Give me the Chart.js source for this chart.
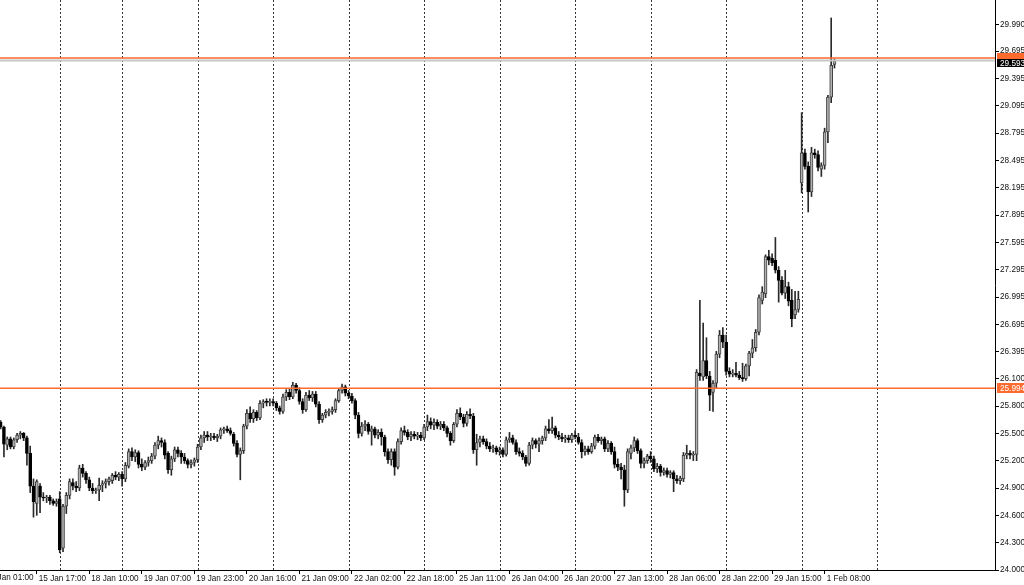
<!DOCTYPE html>
<html>
<head>
<meta charset="utf-8">
<script src="https://cdn.jsdelivr.net/npm/chart.js@4.4.1/dist/chart.umd.min.js"></script>
<style>
  html, body { margin: 0; padding: 0; background: #fff; }
  #wrap { width: 1024px; height: 585px; }
</style>
</head>
<body>
<div id="wrap"><canvas id="chart" width="1024" height="585"></canvas></div>
<script>
// H1 candles, 15 Jan 06:00 .. 1 Feb 11:00 (bar index = position)
const opens = [
  25.62,25.57,25.37,25.44,25.35,25.43,25.48,25.50,25.45,25.28,24.92,24.73,24.92,24.80,24.79,24.80,24.76,24.73,
  24.78,24.24,24.70,24.82,24.96,24.92,24.90,25.12,25.06,24.99,24.90,24.87,24.88,24.93,24.95,24.97,24.98,25.04,25.02,
  25.05,25.00,25.14,25.30,25.24,25.29,25.16,25.13,25.18,25.20,25.25,25.37,25.42,25.40,25.28,25.10,25.22,25.32,25.28,25.24,25.20,25.16,25.18,
  25.21,25.35,25.45,25.48,25.46,25.47,25.45,25.47,25.54,25.55,25.53,25.49,25.39,25.27,25.31,25.58,25.72,25.66,25.73,25.67,25.83,25.85,25.84,
  25.85,25.83,25.78,25.74,25.90,25.95,25.90,26.03,25.97,25.85,25.76,25.92,25.89,25.93,25.82,25.65,25.70,25.73,25.74,25.76,25.86,25.97,26.01,
  25.94,25.91,25.86,25.70,25.50,25.58,25.60,25.52,25.55,25.48,25.51,25.46,25.30,25.21,25.30,25.13,25.41,25.53,25.51,25.46,25.49,25.47,25.48,
  25.45,25.57,25.63,25.59,25.62,25.58,25.60,25.56,25.50,25.42,25.60,25.72,25.68,25.61,25.71,25.69,25.32,25.40,25.44,25.41,25.36,25.33,25.34,
  25.30,25.32,25.27,25.43,25.45,25.40,25.30,25.28,25.24,25.17,25.37,25.42,25.38,25.42,25.45,25.55,25.53,25.56,25.48,25.46,25.44,25.45,25.43,
  25.48,25.46,25.40,25.30,25.33,25.30,25.36,25.46,25.42,25.44,25.33,25.39,25.30,25.16,25.13,25.10,24.88,25.28,25.34,25.42,25.31,25.17,25.20,
  25.25,25.22,25.11,25.14,25.07,25.09,25.05,25.07,25.00,24.98,25.00,25.26,25.28,25.26,25.27,26.16,26.12,26.30,26.13,25.95,26.05,26.37,26.58,
  26.50,26.18,26.15,26.16,26.14,26.11,26.10,26.24,26.38,26.44,26.61,26.96,27.03,27.44,27.42,27.40,27.29,27.18,27.04,27.11,26.96,26.80,26.86,
  28.25,28.58,28.43,28.15,28.58,28.56,28.40,28.44,28.81,29.19,29.55
];
const highs = [
  25.64,25.58,25.46,25.46,25.45,25.50,25.52,25.51,25.47,25.36,25.00,24.99,24.95,24.85,24.82,24.82,24.78,24.78,
  24.86,24.72,24.85,25.00,25.00,24.97,25.15,25.16,25.08,25.02,24.95,24.90,25.01,24.98,25.00,25.02,25.06,25.08,25.07,
  25.08,25.18,25.33,25.34,25.32,25.31,25.22,25.20,25.24,25.28,25.40,25.47,25.45,25.43,25.30,25.25,25.35,25.35,25.31,25.28,25.22,25.21,25.23,
  25.38,25.48,25.52,25.52,25.50,25.50,25.49,25.56,25.57,25.58,25.56,25.51,25.42,25.34,25.60,25.76,25.79,25.76,25.75,25.86,25.87,25.88,25.88,
  25.88,25.85,25.80,25.93,25.98,25.99,26.06,26.05,26.00,25.88,25.95,25.97,25.96,25.96,25.85,25.72,25.76,25.77,25.79,25.88,25.99,26.04,26.03,
  25.97,25.94,25.88,25.73,25.62,25.64,25.62,25.58,25.57,25.54,25.55,25.48,25.33,25.33,25.33,25.44,25.56,25.58,25.54,25.52,25.52,25.51,25.51,
  25.60,25.70,25.67,25.66,25.65,25.63,25.63,25.58,25.52,25.62,25.76,25.78,25.71,25.74,25.77,25.72,25.49,25.47,25.47,25.44,25.40,25.37,25.36,
  25.35,25.34,25.46,25.51,25.48,25.43,25.34,25.31,25.26,25.40,25.45,25.44,25.45,25.47,25.58,25.65,25.68,25.58,25.52,25.50,25.48,25.48,25.50,
  25.53,25.50,25.43,25.36,25.36,25.39,25.48,25.49,25.46,25.46,25.42,25.41,25.35,25.22,25.17,25.15,25.33,25.37,25.46,25.44,25.33,25.23,25.27,
  25.30,25.25,25.17,25.16,25.12,25.12,25.09,25.09,25.04,25.03,25.29,25.37,25.31,25.30,26.20,26.96,26.71,26.55,26.18,26.08,26.40,26.63,26.66,
  26.58,26.22,26.20,26.28,26.18,26.27,26.26,26.40,26.53,26.64,27.02,27.11,27.46,27.51,27.47,27.65,27.33,27.22,27.29,27.16,27.08,27.06,27.06,
  29.02,28.62,28.48,28.64,28.62,28.60,28.47,28.85,29.21,30.06,29.61
];
const lows = [
  25.55,25.24,25.32,25.33,25.33,25.40,25.44,25.42,25.15,24.85,24.58,24.60,24.63,24.76,24.74,24.72,24.71,24.70,
  24.19,24.20,24.62,24.78,24.88,24.86,24.87,25.02,24.95,24.87,24.84,24.84,24.76,24.86,24.90,24.93,24.95,24.99,24.98,
  24.92,24.97,25.12,25.20,25.19,25.12,25.09,25.10,25.14,25.17,25.22,25.33,25.35,25.22,25.06,25.04,25.19,25.24,25.17,25.17,25.12,25.12,25.14,
  25.18,25.32,25.40,25.42,25.42,25.43,25.41,25.44,25.50,25.51,25.48,25.36,25.24,24.99,25.28,25.55,25.62,25.62,25.64,25.65,25.78,25.80,25.80,
  25.80,25.75,25.71,25.72,25.86,25.87,25.88,25.94,25.82,25.72,25.74,25.86,25.85,25.79,25.61,25.62,25.67,25.69,25.71,25.73,25.84,25.94,25.91,
  25.88,25.83,25.66,25.45,25.47,25.53,25.49,25.37,25.45,25.44,25.37,25.25,25.17,25.15,25.04,25.11,25.38,25.48,25.43,25.42,25.44,25.43,25.42,
  25.43,25.53,25.55,25.54,25.55,25.54,25.53,25.46,25.37,25.40,25.57,25.65,25.57,25.58,25.66,25.28,25.15,25.35,25.38,25.33,25.30,25.29,25.27,
  25.26,25.24,25.25,25.40,25.38,25.27,25.25,25.21,25.14,25.15,25.33,25.34,25.30,25.38,25.42,25.50,25.50,25.45,25.43,25.41,25.40,25.40,25.40,
  25.44,25.38,25.23,25.26,25.27,25.28,25.33,25.40,25.38,25.30,25.30,25.27,25.12,25.09,25.00,24.70,24.85,25.22,25.30,25.28,25.12,25.12,25.17,
  25.18,25.08,25.07,25.03,25.04,25.02,25.01,24.86,24.95,24.94,24.97,25.22,25.22,25.20,25.20,26.08,26.08,26.10,25.75,25.74,26.00,26.33,26.44,
  26.14,26.12,26.12,26.12,26.09,26.07,26.08,26.13,26.33,26.40,26.58,26.92,26.99,27.35,27.34,27.26,26.94,27.02,26.98,26.90,26.67,26.76,26.83,
  28.14,28.40,27.93,28.10,28.52,28.38,28.32,28.40,28.69,29.13,29.51
];
const closes = [
  25.57,25.38,25.44,25.35,25.43,25.48,25.50,25.45,25.28,24.92,24.75,24.97,24.80,24.79,24.80,24.76,24.73,24.75,
  24.22,24.70,24.82,24.97,24.92,24.90,25.12,25.06,24.99,24.90,24.87,24.88,24.93,24.95,24.97,25.00,25.04,25.02,25.05,
  25.00,25.15,25.30,25.24,25.29,25.16,25.13,25.18,25.20,25.25,25.37,25.42,25.40,25.26,25.10,25.22,25.32,25.28,25.24,25.20,25.16,25.18,25.21,
  25.35,25.45,25.48,25.46,25.47,25.45,25.47,25.54,25.55,25.53,25.50,25.39,25.27,25.31,25.58,25.72,25.66,25.73,25.67,25.83,25.85,25.84,25.85,
  25.83,25.78,25.74,25.90,25.95,25.90,26.03,25.97,25.85,25.76,25.92,25.89,25.93,25.82,25.65,25.70,25.73,25.74,25.76,25.86,25.97,26.01,25.94,
  25.91,25.86,25.70,25.50,25.58,25.60,25.52,25.55,25.48,25.51,25.46,25.30,25.21,25.30,25.13,25.41,25.53,25.51,25.46,25.49,25.47,25.48,25.45,
  25.57,25.63,25.59,25.62,25.58,25.60,25.56,25.50,25.42,25.60,25.72,25.68,25.61,25.71,25.69,25.32,25.40,25.44,25.41,25.36,25.33,25.34,25.30,
  25.32,25.27,25.43,25.45,25.40,25.30,25.28,25.24,25.17,25.37,25.42,25.38,25.42,25.45,25.55,25.53,25.56,25.48,25.46,25.44,25.45,25.43,25.48,
  25.46,25.40,25.30,25.33,25.30,25.36,25.46,25.42,25.44,25.33,25.39,25.30,25.16,25.13,25.10,24.88,25.30,25.34,25.42,25.31,25.17,25.20,25.25,
  25.22,25.11,25.14,25.07,25.09,25.05,25.07,25.00,24.98,25.01,25.26,25.28,25.26,25.27,26.17,26.13,26.30,26.13,25.92,26.05,26.37,26.58,26.50,
  26.18,26.15,26.16,26.14,26.11,26.10,26.24,26.38,26.44,26.61,26.99,27.05,27.44,27.40,27.37,27.29,27.18,27.04,27.11,26.95,26.76,26.86,26.97,
  28.58,28.43,28.15,28.58,28.56,28.42,28.44,28.81,29.19,29.54,29.59
];

// time axis labels (bar index -> text); the first one sits left of the visible range
const xTickIdx = [-5, 11, 27, 43, 59, 75, 91, 107, 123, 139, 155, 171, 187, 203, 219, 235, 251];
const xTickLabels = ["15 Jan 01:00", "15 Jan 17:00", "18 Jan 10:00", "19 Jan 07:00", "19 Jan 23:00", "20 Jan 16:00",
  "21 Jan 09:00", "22 Jan 02:00", "22 Jan 18:00", "25 Jan 11:00", "26 Jan 04:00", "26 Jan 20:00", "27 Jan 13:00",
  "28 Jan 06:00", "28 Jan 22:00", "29 Jan 15:00", "1 Feb 08:00"];
// day separators (first bar of each day)
const daySepIdx = [18, 37, 60, 83, 106, 129, 152, 175, 198, 221, 244, 267];

// price axis
const yTickVals = [24.000, 24.300, 24.600, 24.900, 25.200, 25.500, 25.800, 26.100, 26.395, 26.695, 26.995,
  27.295, 27.595, 27.895, 28.195, 28.495, 28.795, 29.095, 29.395, 29.695, 29.990, 30.290];
const yTickLabels = yTickVals.map(v => v.toFixed(3));

const levelLow = 25.994;
const levelHigh = 29.620;
const bidPrice = 29.593;

const xMin = -0.2, xMax = 302.9;
const yMin = 24.0, yMax = 30.257;

const FONT = "'Liberation Sans Narrow', 'Arial Narrow', 'Liberation Sans', sans-serif";
const FSIZE = 8.2;
const ORANGE = '#ff6a2e';

const bodies = opens.map((o, i) => ({ x: i, y: [o, closes[i]] }));
const wicks = highs.map((h, i) => ({ x: i, y: [lows[i], h] }));
const isUp = opens.map((o, i) => closes[i] >= o);

function hLine(v) {
  return [{ x: xMin, y: v }, { x: xMax, y: v }];
}

// dotted day separators
const separators = {
  id: 'separators',
  beforeDatasetsDraw(chart) {
    const { ctx, chartArea, scales } = chart;
    ctx.save();
    ctx.strokeStyle = '#333';
    ctx.lineWidth = 1;
    ctx.setLineDash([2, 2]);
    daySepIdx.forEach(i => {
      const x = Math.round(scales.x.getPixelForValue(i)) + 0.5;
      ctx.beginPath();
      ctx.moveTo(x, chartArea.top);
      ctx.lineTo(x, chartArea.bottom);
      ctx.stroke();
    });
    ctx.restore();
  }
};

// time labels: ticks that fall left of the range are drawn here, partly off canvas
const offLabels = {
  id: 'offLabels',
  afterDraw(chart) {
    const { ctx, scales } = chart;
    ctx.save();
    ctx.fillStyle = '#111';
    ctx.font = FSIZE + 'px ' + FONT;
    ctx.textBaseline = 'top';
    ctx.textAlign = 'left';
    xTickIdx.forEach((v, k) => {
      if (v >= xMin) return;
      ctx.fillText(xTickLabels[k], scales.x.getPixelForValue(v) + 2, scales.x.top + 4);
    });
    ctx.restore();
  }
};

// price tags on the right axis
function tag(chart, top, h, bg, text) {
  const { ctx, scales } = chart;
  const x0 = scales.y.left + 2;
  ctx.fillStyle = bg;
  ctx.fillRect(x0, top, chart.width - x0, h);
  if (text) {
    ctx.fillStyle = '#fff';
    ctx.font = FSIZE + 'px ' + FONT;
    ctx.textBaseline = 'middle';
    ctx.textAlign = 'left';
    ctx.fillText(text, scales.y.left + 5, top + h / 2 + 0.5);
  }
}
const priceTags = {
  id: 'priceTags',
  afterDatasetsDraw(chart) {
    const py = chart.scales.y.getPixelForValue(levelHigh);
    tag(chart, Math.round(py) - 5, 7, ORANGE, '');
  },
  afterDraw(chart) {
    const y = chart.scales.y;
    const pb = Math.round(y.getPixelForValue(bidPrice));
    tag(chart, pb - 1, 8, '#000', bidPrice.toFixed(3));
    const pl = Math.round(y.getPixelForValue(levelLow));
    tag(chart, pl - 5, 10, ORANGE, levelLow.toFixed(3));
  }
};

new Chart(document.getElementById('chart').getContext('2d'), {
  type: 'bar',
  data: {
    datasets: [
      {
        type: 'line', data: hLine(levelLow), borderColor: ORANGE, borderWidth: 1.5,
        pointRadius: 0, order: 0
      },
      {
        type: 'line', data: hLine(levelHigh), borderColor: ORANGE, borderWidth: 1.5,
        pointRadius: 0, order: 0
      },
      {
        type: 'line', data: hLine(bidPrice), borderColor: '#c8c8c8', borderWidth: 2,
        pointRadius: 0, order: 0
      },
      {
        data: wicks, barThickness: 1, grouped: false, backgroundColor: '#2a2a2a',
        borderWidth: 0, order: 2
      },
      {
        data: bodies, barThickness: 3, grouped: false, minBarLength: 1,
        backgroundColor: isUp.map(u => u ? '#b0b0b0' : '#000'),
        borderColor: isUp.map(u => u ? '#404040' : '#000'),
        borderWidth: 1, borderSkipped: false, order: 1
      }
    ]
  },
  options: {
    responsive: false,
    animation: false,
    events: [],
    layout: { padding: 0 },
    plugins: { legend: { display: false }, tooltip: { enabled: false } },
    scales: {
      x: {
        type: 'linear', min: xMin, max: xMax, offset: false,
        afterBuildTicks: s => { s.ticks = xTickIdx.filter(v => v >= xMin).map(v => ({ value: v })); },
        afterFit: s => { s.height = 15; s.paddingLeft = 0; s.paddingRight = 0; },
        grid: { offset: false, drawOnChartArea: false, drawTicks: true, tickLength: 4, color: '#000' },
        border: { display: true, color: '#000', width: 1 },
        ticks: {
          autoSkip: false, maxRotation: 0, minRotation: 0, align: 'start', padding: 0, labelOffset: 2,
          color: '#111', font: { family: FONT, size: FSIZE },
          callback: v => xTickLabels[xTickIdx.indexOf(v)]
        }
      },
      y: {
        type: 'linear', position: 'right', min: yMin, max: yMax, z: 1,
        afterBuildTicks: s => { s.ticks = yTickVals.map(v => ({ value: v })); },
        afterFit: s => { s.width = 29; s.paddingTop = 0; s.paddingBottom = 0; },
        grid: { drawOnChartArea: false, drawTicks: true, tickLength: 4, color: '#000' },
        border: { display: true, color: '#000', width: 1 },
        ticks: {
          autoSkip: false, padding: 1, color: '#111', font: { family: FONT, size: FSIZE },
          callback: (v, idx) => yTickLabels[idx]
        }
      }
    }
  },
  plugins: [separators, offLabels, priceTags]
});
</script>
</body>
</html>
